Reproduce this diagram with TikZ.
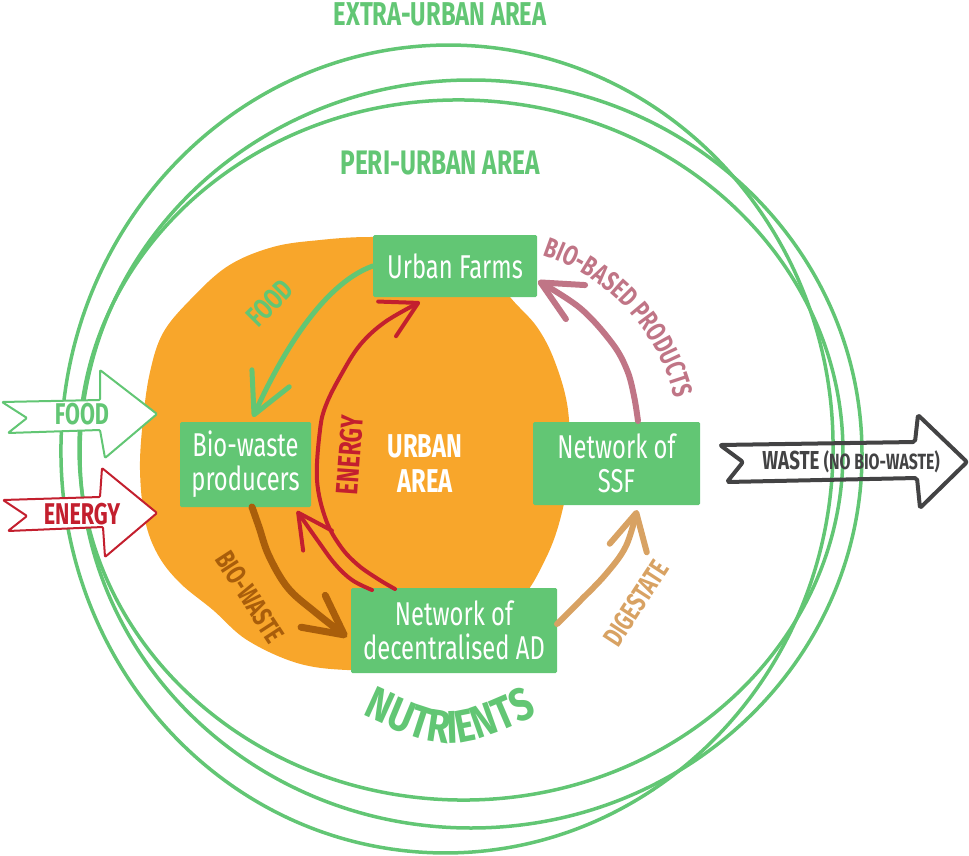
\documentclass[tikz,border=0pt]{standalone}
\usepackage{fontspec}
\usetikzlibrary{arrows.meta,decorations.text}
\newfontfamily\cf[FakeStretch=0.72]{Fira Sans}
\newfontfamily\cfw[FakeStretch=0.8]{Fira Sans}
\definecolor{cgreen}{HTML}{62C674}
\definecolor{corange}{HTML}{F8A62B}
\definecolor{cred}{HTML}{C31F2E}
\definecolor{cpink}{HTML}{C07586}
\definecolor{cbrown}{HTML}{A95E0B}
\definecolor{ctan}{HTML}{D8A263}
\definecolor{cgrey}{HTML}{434344}
\begin{document}
\begin{tikzpicture}[x=1pt,y=-1pt,
  circ/.style={draw=cgreen,line width=3.5pt},
  box/.style={fill=cgreen,text=white,font=\cf\fontsize{33}{34}\selectfont,align=center,inner sep=0pt,rounded corners=1.5pt},
  flowline/.style={line width=#1,line cap=round,line join=round},
  lab/.style={font=\cf\bfseries\fontsize{#1}{#1}\selectfont},
  bannerarrow/.style={line width=#1,line join=round,rounded corners=1pt}
]
\useasboundingbox (0,0) rectangle (969,856);

% area circles
\draw[circ, rotate around={-3:(447,449)}] (447,449) ellipse [x radius=386pt, y radius=404pt];
\draw[circ] (471,454) ellipse [x radius=391pt, y radius=374pt];
\draw[circ, rotate around={-2:(461,450)}] (461,450) ellipse [x radius=382pt, y radius=350pt];

\node[lab=33, text=cgreen] (extra) at (440,14) {EXTRA-URBAN AREA};
\node[lab=34, text=cgreen] (peri) at (440,163) {PERI-URBAN AREA};

% urban blob
\fill[corange] plot[smooth cycle, tension=0.6] coordinates {
 (273,247) (320,240) (370,237) (430,240) (485,262) (510,297) (537,327) (555,362)
 (568,410) (569,470) (560,520) (545,560) (520,600) (470,640) (400,668) (347,670)
 (297,663) (247,640) (213,610) (180,583) (158,555) (145,520) (140,470) (143,420)
 (150,372) (163,333) (190,300) (228,266)};

% input arrows
\draw[bannerarrow=2pt, draw=cgreen, fill=white]
  (2,402) -- (27,418) -- (8,433) -- (100,430) -- (105,458) -- (157,414) -- (100,370) -- (100,400) -- cycle;
\node[lab=30, text=cgreen] (infood) at (82,414) {FOOD};
\draw[bannerarrow=2pt, draw=cred, fill=white]
  (3,500) -- (27,516) -- (8,531) -- (103,527) -- (105,557) -- (157,513) -- (102,468) -- (100,497) -- cycle;
\node[lab=30, text=cred] (inenergy) at (82,514) {ENERGY};

% output arrow
\draw[bannerarrow=4pt, draw=cgrey, rounded corners=2pt]
  (720,445) -- (743,462) -- (727,482) -- (917,478) -- (920,508) -- (967,462) -- (918,415) -- (915,442) -- cycle;
\node[text=cgrey, font=\cf\bfseries] (outwaste) at (851,462)
  {\fontsize{26}{26}\selectfont WASTE \fontsize{22}{22}\selectfont(NO BIO-WASTE)};

% boxes
\node[box, minimum width=164pt, minimum height=62pt] (uf) at (455,266) {Urban Farms};
\node[box, minimum width=131pt, minimum height=85pt] (bw) at (245.5,464.5) {Bio-waste\\producers};
\node[box, minimum width=167pt, minimum height=83pt] (ssf) at (616.5,463.5) {Network of\\SSF};
\node[box, minimum width=206pt, minimum height=85pt] (ad) at (454,630.5) {Network of\\decentralised AD};

\node[font=\cf\bfseries\fontsize{33}{35}\selectfont, text=white, align=center] (ua) at (425,464) {URBAN\\AREA};

% flow end points
\coordinate (foodtip) at (253,417);
\coordinate (e1s) at (395,589);
\coordinate (e1t) at (420,302);
\coordinate (e2s) at (372,590);
\coordinate (e2t) at (297,511);
\coordinate (bws) at (252,507);
\coordinate (bwt) at (347,637);
\coordinate (dgs) at (557,624);
\coordinate (dgt) at (637,510);
\coordinate (bbs) at (638,421);
\coordinate (bbt) at (538,281);

% flows
\draw[cgreen, flowline=5pt, -{Straight Barb[length=40pt,width=41pt,round]}]
  (uf.west) .. controls (320,285) and (278,362) .. (foodtip);
\draw[cred, flowline=4pt, -{Straight Barb[length=35pt,width=39pt,round]}]
  plot[smooth, tension=0.6] coordinates {(e1s) (378,579) (358,565) (341,547) (326,520) (317,480) (320,430) (326,405) (341,375) (360,345) (385,322) (e1t)};
\draw[cred, flowline=4pt, -{Straight Barb[length=34pt,width=35pt,round]}]
  plot[smooth, tension=0.6] coordinates {(e2s) (352,580) (335,564) (318,541) (e2t)};
\draw[cbrown, flowline=7pt, -{Straight Barb[length=39pt,width=40pt,round]}]
  plot[smooth, tension=0.6] coordinates {(bws) (259,527) (269,556) (288,588) (315,612) (bwt)};
\draw[ctan, flowline=6pt, -{Straight Barb[length=36pt,width=38pt,round]}]
  plot[smooth, tension=0.6] coordinates {(dgs) (580,601) (606,574) (626,546) (dgt)};
\draw[cpink, flowline=6pt, -{Straight Barb[length=40pt,width=39pt,round]}]
  plot[smooth, tension=0.6] coordinates {(bbs) (634,396) (627,370) (612,343) (580,308) (bbt)};

% flow labels
\node[lab=29, text=cgreen, rotate=45] (lfood) at (270,303) {FOOD};
\node[lab=31, text=cred, rotate=86] (lenergy) at (350,455) {ENERGY};
\node[lab=28, text=cbrown, rotate=-57] (lbw) at (250,597) {BIO-WASTE};
\node[lab=28, text=ctan, rotate=57] (ldig) at (636,603) {DIGESTATE};

\path[decorate, decoration={text along path, text align=center,
  text={|\cf\bfseries\fontsize{28}{28}\selectfont\color{cpink}|BIO-BASED PRODUCTS}}]
  (514.7,248) .. controls (603.8,263.7) and (671.3,337.5) .. (679.2,427.6);

\path[decorate, decoration={text along path, text align=center,
  text={|\cfw\bfseries\fontsize{46}{46}\selectfont\color{cgreen}|NUTRIENTS}}]
  (344.3,706.6) .. controls (450,755.8) .. (555.7,706.6);
\end{tikzpicture}
\end{document}
